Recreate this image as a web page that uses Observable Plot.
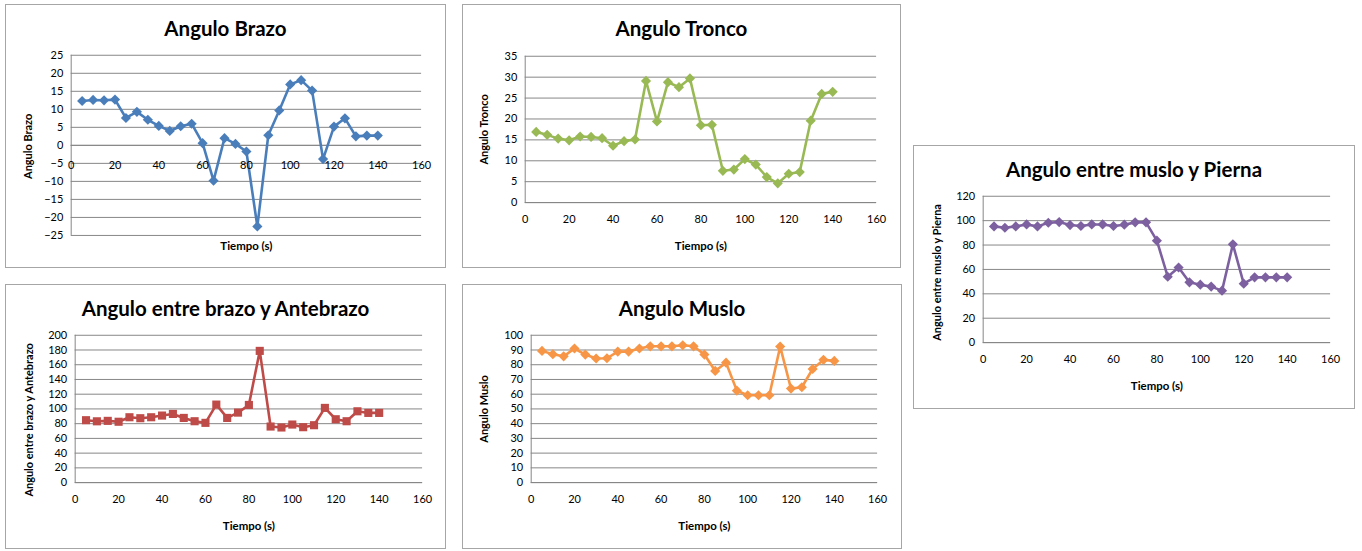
<!DOCTYPE html>
<html><head><meta charset="utf-8">
<script src="https://cdn.jsdelivr.net/npm/d3@7"></script>
<script src="https://cdn.jsdelivr.net/npm/@observablehq/plot@0.6"></script>
<style>
body{margin:0;background:#fff;font-family:Lato,"Open Sans",sans-serif;}
#root{position:relative;width:1362px;height:551px;overflow:hidden;background:#fff;}
.panel{position:absolute;box-sizing:border-box;border:1px solid #a6a6a6;background:#fff;}
.panel svg{position:absolute;left:-1px;top:-1px;}
.title{position:absolute;left:0;right:0;top:10px;text-align:center;font-weight:700;font-size:20.5px;line-height:26px;color:#000;z-index:2;}
</style></head><body><div id="root"></div>
<script>
// Time (s)
const tiempo = [5,10,15,20,25,30,35,40,45,50,55,60,65,70,75,80,85,90,95,100,105,110,115,120,125,130,135,140];

// Series values
const anguloBrazo = [12.3,12.6,12.5,12.7,7.6,9.3,7.1,5.4,4.0,5.3,6.0,0.6,-9.8,2.0,0.4,-1.7,-22.5,2.8,9.7,16.9,18.1,15.2,-3.8,5.2,7.5,2.5,2.7,2.7];
const anguloTronco = [16.9,16.2,15.3,14.9,15.8,15.7,15.4,13.6,14.7,15.1,29.1,19.4,28.8,27.6,29.7,18.5,18.6,7.6,7.9,10.4,9.1,6.1,4.6,6.9,7.3,19.6,26.0,26.5];
const anguloBrazoAntebrazo = [84.7,83.2,83.8,82.6,88.7,87.4,88.7,91.0,93.2,87.8,83.3,81.1,105.9,87.8,95.0,105.4,178.8,76.1,74.8,78.8,75.2,77.9,101.4,86.0,83.3,96.8,94.6,94.6];
const anguloMuslo = [89.4,87.1,85.7,91.0,86.9,84.2,84.4,88.9,88.9,91.0,92.5,92.5,92.5,93.2,92.5,86.9,75.8,81.4,62.4,59.3,59.3,59.3,92.3,63.8,64.7,77.1,83.3,82.6];
const anguloMusloPierna = [95.3,94.2,95.3,96.9,95.3,98.3,98.8,96.4,95.6,96.9,96.9,95.6,96.7,98.6,98.6,83.6,54.0,61.6,49.4,47.5,45.9,42.6,80.6,48.3,53.5,53.5,53.5,53.5];

// Tick labels
const ticksX = [0,20,40,60,80,100,120,140,160];
const ticksBrazo = [-25,-20,-15,-10,-5,0,5,10,15,20,25];
const ticksTronco = [0,5,10,15,20,25,30,35];
const ticksAntebrazo = [0,20,40,60,80,100,120,140,160,180,200];
const ticksMuslo = [0,10,20,30,40,50,60,70,80,90,100];
const ticksPierna = [0,20,40,60,80,100,120];

// Titles
const titles = ["Angulo Brazo","Angulo Tronco","Angulo entre brazo y Antebrazo","Angulo Muslo","Angulo entre muslo y Pierna"];
const yLabels = ["Angulo Brazo","Angulo Tronco","Angulo entre brazo y Antebrazo","Angulo Muslo","Angulo entre muslo y Pierna"];
const xLabel = "Tiempo (s)";

const panels = [
  {left:5,top:4,width:441,height:264,mL:66,mR:23,mT:51,mB:32,title:titles[0],ylabel:yLabels[0],values:anguloBrazo,yticks:ticksBrazo,color:"#4a7ebb",symbol:"diamond2",r:4.6,xAtZero:true,xlDy:11,ylDx:-43,ylDy:1},
  {left:462,top:4,width:439,height:264,mL:63,mR:23,mT:52,mB:65,title:titles[1],ylabel:yLabels[1],values:anguloTronco,yticks:ticksTronco,color:"#98b954",symbol:"diamond2",r:4.6,xAtZero:false,xlDy:44,ylDx:-41,ylDy:0},
  {left:5,top:284,width:441,height:265,mL:70,mR:22,mT:51,mB:66,title:titles[2],ylabel:yLabels[2],values:anguloBrazoAntebrazo,yticks:ticksAntebrazo,color:"#be4b48",symbol:"square",r:4.6,xAtZero:false,xlDy:44,ylDx:-46,ylDy:11},
  {left:462,top:284,width:440,height:265,mL:69,mR:23,mT:51,mB:66,title:titles[3],ylabel:yLabels[3],values:anguloMuslo,yticks:ticksMuslo,color:"#f79646",symbol:"diamond2",r:4.6,xAtZero:false,xlDy:44,ylDx:-47,ylDy:0},
  {left:913,top:145,width:442,height:264,mL:70,mR:23,mT:51,mB:66,title:titles[4],ylabel:yLabels[4],values:anguloMusloPierna,yticks:ticksPierna,color:"#7d60a0",symbol:"diamond2",r:4.6,xAtZero:false,xlDy:44,ylDx:-46,ylDy:3}
];

const root = document.getElementById("root");
const grid = "#868686";

for (const p of panels) {
  const rows = tiempo.map((t, i) => ({t, v: p.values[i]}));
  const ydom = [p.yticks[0], p.yticks[p.yticks.length - 1]];
  const marks = [
    Plot.gridY(p.yticks, {stroke: grid, strokeOpacity: 1, strokeWidth: 1}),
    Plot.ruleX([0], {stroke: grid, strokeWidth: 1}),
    Plot.ruleY([0], {stroke: grid, strokeWidth: 1}),
    Plot.axisY(p.yticks, {tickSize: 0, tickPadding: 8, fontSize: 11, label: null, fill: "#000"}),
    Plot.line(rows, {x: "t", y: "v", stroke: p.color, strokeWidth: 2.6, strokeLinejoin: "round"}),
    Plot.dot(rows, {x: "t", y: "v", symbol: p.symbol, fill: p.color, stroke: "none", r: p.r}),
    Plot.text([xLabel], {frameAnchor: "bottom", lineAnchor: "middle", textAnchor: "middle", dy: p.xlDy, fontWeight: "bold", fontSize: 11.5, fill: "#000"}),
    Plot.text([p.ylabel], {frameAnchor: "left", lineAnchor: "middle", textAnchor: "middle", rotate: -90, dx: p.ylDx, dy: p.ylDy, fontWeight: "bold", fontSize: 11, fill: "#000"})
  ];
  if (p.xAtZero) {
    marks.push(Plot.axisX({ticks: [], tickSize: 0, label: null}));
    marks.push(Plot.text(ticksX, {x: d => d, y: () => 0, dy: 20, fontSize: 11, fill: "#000"}));
  } else {
    marks.push(Plot.axisX(ticksX, {tickSize: 0, tickPadding: 13, fontSize: 11, label: null, fill: "#000"}));
  }
  const svg = Plot.plot({
    width: p.width, height: p.height,
    marginLeft: p.mL, marginRight: p.mR, marginTop: p.mT, marginBottom: p.mB,
    style: {fontFamily: "Lato, 'Open Sans', sans-serif", fontSize: "11px", background: "transparent", color: "#000", overflow: "visible"},
    x: {domain: [0, 160]},
    y: {domain: ydom},
    marks
  });
  const div = document.createElement("div");
  div.className = "panel";
  Object.assign(div.style, {left: p.left + "px", top: p.top + "px", width: p.width + "px", height: p.height + "px"});
  const t = document.createElement("div");
  t.className = "title";
  t.textContent = p.title;
  div.appendChild(svg);
  div.appendChild(t);
  root.appendChild(div);
}
</script>
</body></html>
